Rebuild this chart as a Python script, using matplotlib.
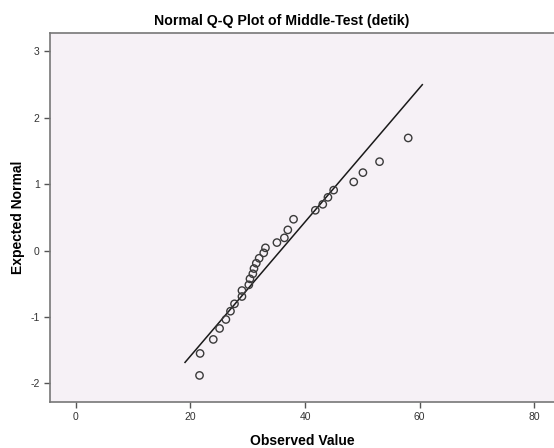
import matplotlib
matplotlib.use("Agg")
import matplotlib.pyplot as plt

observed = [21.6, 21.7, 24.0, 25.1, 26.2, 27.0, 27.7, 29.0, 29.0, 30.2,
            30.4, 30.9, 31.1, 31.5, 32.0, 32.8, 33.1, 35.1, 36.4, 37.0,
            38.0, 41.8, 43.1, 44.0, 45.0, 48.5, 50.1, 53.0, 58.0]
expected = [-1.880, -1.549, -1.338, -1.173, -1.038, -0.913, -0.802, -0.692, -0.602, -0.516,
            -0.426, -0.350, -0.271, -0.191, -0.116, -0.035, 0.041, 0.120, 0.191, 0.311,
            0.471, 0.606, 0.696, 0.801, 0.910, 1.033, 1.173, 1.338, 1.695]

# Reference line (expected = (x - mean) / sd)
line_mean = 35.74
line_sd = 9.90
line_x = [19.07, 60.46]
line_y = [(v - line_mean) / line_sd for v in line_x]

x_ticks = [0, 20, 40, 60, 80]
y_ticks = [-2, -1, 0, 1, 2, 3]

plt.rcParams['font.family'] = ['Liberation Sans', 'DejaVu Sans']
plt.rcParams['axes.unicode_minus'] = False

fig = plt.figure(figsize=(5.54, 4.48), dpi=100)
W, H = 554, 448
left, right, top, bottom = 50, 554, 33, 402
ax = fig.add_axes([left / W, 1 - bottom / H, (right - left) / W, (bottom - top) / H])
ax.set_facecolor('#F6F1F6')

ax.plot(line_x, line_y, color='#1a1a1a', lw=1.1, zorder=2)
ax.scatter(observed, expected, s=28, facecolors='none', edgecolors='#3a3a3a',
           linewidths=1.0, zorder=3)

ax.set_xlim(-4.48, 83.43)
ax.set_ylim(-2.28, 3.275)
ax.set_xticks(x_ticks)
ax.set_yticks(y_ticks)
ax.tick_params(axis='both', direction='out', length=4, width=1, color='#555555',
               labelsize=7.5, labelcolor='#333333')

for side in ['left', 'bottom', 'top']:
    ax.spines[side].set_color('#777777')
    ax.spines[side].set_linewidth(1.2)
ax.spines['right'].set_visible(False)

ax.set_xlabel('Observed Value', fontsize=10, fontweight='bold', labelpad=8)
fig.text(18 / W, 1 - 217 / H, 'Expected Normal', rotation=90,
         ha='center', va='center', fontsize=10, fontweight='bold')
fig.text(282 / W, 1 - 21 / H, 'Normal Q-Q Plot of Middle-Test (detik)',
         ha='center', va='center', fontsize=10.2, fontweight='bold')

fig.savefig('out.png', dpi=100)
